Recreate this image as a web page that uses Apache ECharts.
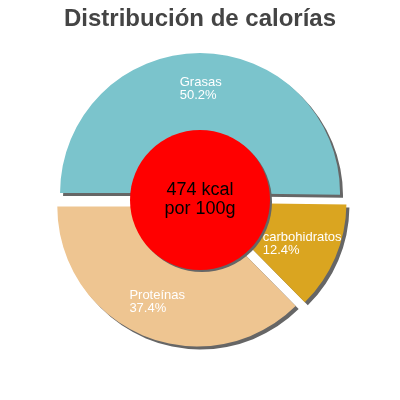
<!DOCTYPE html>
<html>
<head>
<meta charset="utf-8">
<script src="https://cdn.jsdelivr.net/npm/echarts@6/dist/echarts.min.js"></script>
<style>
  html, body { margin: 0; padding: 0; background: #fff; }
  #chart { width: 400px; height: 400px; }
</style>
</head>
<body>
<div id="chart"></div>
<script>
const categories = ["Grasas", "carbohidratos", "Proteínas"];
const percents = [50.2, 12.4, 37.4];
const colors = ["#7bc4cc", "#daa520", "#eec591"];
const centerLines = ["474 kcal", "por 100g"];

const chart = echarts.init(document.getElementById("chart"));

// slices, all pulled out a little like the original
const sliceData = categories.map((name, i) => ({
  name: name,
  value: percents[i],
  selected: true,
  itemStyle: { color: colors[i] }
}));

const options = {
  animation: false,
  title: {
    text: "Distribución de calorías",
    left: "center",
    top: 7,
    padding: 0,
    textStyle: {
      fontFamily: "Liberation Sans",
      fontSize: 24,
      fontWeight: "bold",
      color: "#444"
    }
  },
  series: [
    {
      type: "pie",
      z: 2,
      center: ["50%", "50%"],
      radius: [62, 140],
      startAngle: 180,
      clockwise: true,
      selectedMode: "multiple",
      selectedOffset: 7,
      silent: true,
      itemStyle: {
        shadowColor: "#666",
        shadowBlur: 0,
        shadowOffsetX: 3,
        shadowOffsetY: 3
      },
      label: {
        position: "inside",
        formatter: (p) => "{t|" + p.name + "}\n{t|" + p.value + "%}",
        rich: {
          t: {
            align: "left",
            color: "#fff",
            fontFamily: "Liberation Sans",
            fontSize: 13,
            lineHeight: 13
          }
        }
      },
      labelLine: { show: false },
      data: sliceData
    },
    {
      // red disc in the middle
      type: "pie",
      z: 5,
      center: ["50%", "50%"],
      radius: [0, 70],
      silent: true,
      itemStyle: {
        color: "#ff0000",
        shadowColor: "#666",
        shadowBlur: 0,
        shadowOffsetX: 2,
        shadowOffsetY: 2
      },
      label: {
        position: "center",
        formatter: centerLines.join("\n"),
        color: "#000",
        fontFamily: "Liberation Sans",
        fontSize: 18,
        lineHeight: 19
      },
      labelLine: { show: false },
      data: [{ name: "kcal", value: 1 }]
    }
  ]
};

chart.setOption(options);
</script>
</body>
</html>
